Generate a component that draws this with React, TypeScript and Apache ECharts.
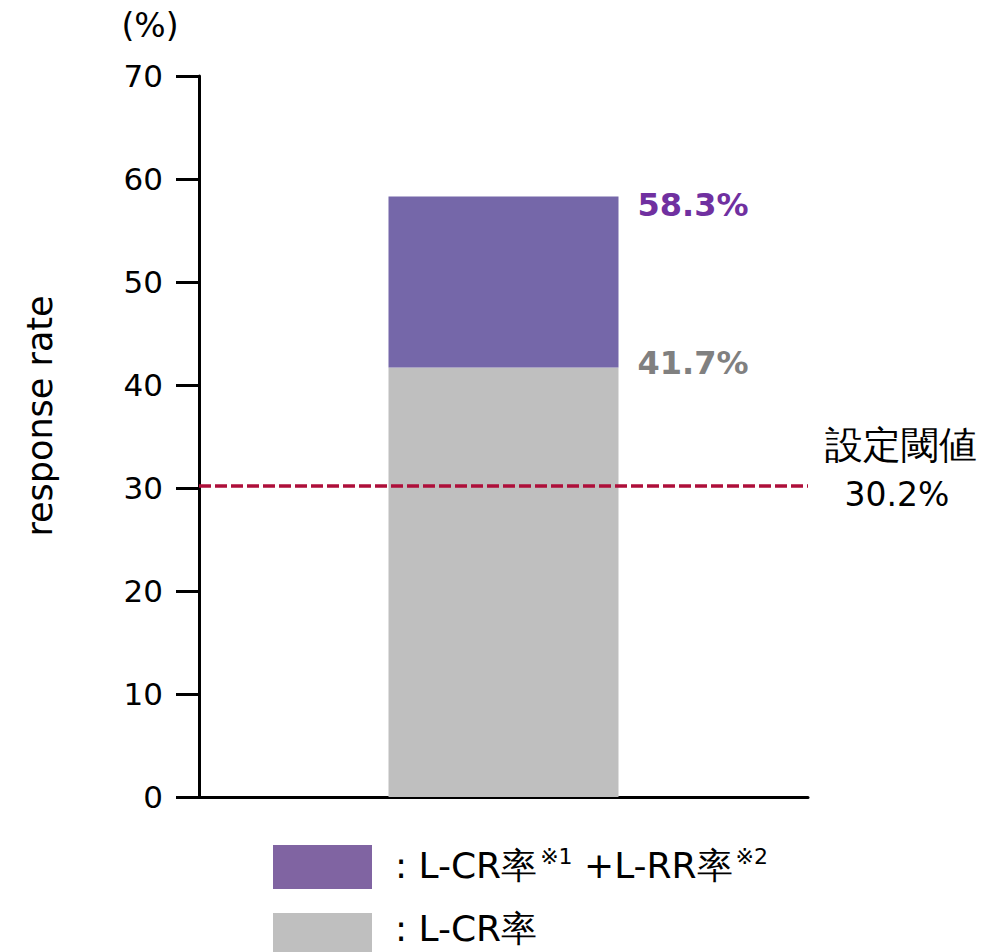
import React, { useEffect, useRef } from "react";
import * as echarts from "echarts";

// Response rates (%)
const categories = [""];
const lcrRate = [41.7]; // L-CR率
const totalRate = [58.3]; // L-CR率 + L-RR率
const threshold = 30.2; // 設定閾値
const yTicks = { min: 0, max: 70, interval: 10 };

const FONT = "DejaVu Sans";
const PURPLE_BAR = "#7567A9";
const PURPLE_LEGEND = "#8064A2";
const GRAY = "#BFBFBF";
const RED = "#AE0F3A";

export default function App() {
  const ref = useRef<HTMLDivElement>(null);

  useEffect(() => {
    if (!ref.current) return;
    const chart = echarts.init(ref.current, undefined, { renderer: "svg" });
    const rrPart = totalRate.map((t, i) => +(t - lcrRate[i]).toFixed(1));

    chart.setOption({
      animation: false,
      textStyle: { fontFamily: FONT },
      grid: { left: 199, right: 188, top: 76, bottom: 155, containLabel: false },
      xAxis: {
        type: "category",
        data: categories,
        axisLine: { show: true, lineStyle: { color: "#000", width: 3 } },
        axisTick: { show: false },
        axisLabel: { show: false },
      },
      yAxis: {
        type: "value",
        min: yTicks.min,
        max: yTicks.max,
        interval: yTicks.interval,
        splitLine: { show: false },
        axisLine: { show: true, lineStyle: { color: "#000", width: 3 } },
        axisTick: { show: true, length: 23, lineStyle: { color: "#000", width: 3 } },
        axisLabel: { color: "#000", fontSize: 31, margin: 36, fontFamily: FONT },
      },
      series: [
        {
          type: "bar",
          stack: "rate",
          barWidth: 230,
          data: lcrRate,
          itemStyle: { color: GRAY },
          label: {
            show: true,
            position: ["100%", 0],
            offset: [19, -4],
            align: "left",
            verticalAlign: "middle",
            fontSize: 32,
            fontWeight: "bold",
            color: "#808080",
            fontFamily: FONT,
            formatter: (p: any) => `${lcrRate[p.dataIndex]}%`,
          },
          markLine: {
            silent: true,
            symbol: "none",
            label: { show: false },
            lineStyle: { color: RED, width: 3.5, type: [12, 4], opacity: 1 },
            data: [{ yAxis: threshold }],
          },
        },
        {
          type: "bar",
          stack: "rate",
          barWidth: 230,
          data: rrPart,
          itemStyle: { color: PURPLE_BAR },
          label: {
            show: true,
            position: ["100%", 0],
            offset: [19, 8],
            align: "left",
            verticalAlign: "middle",
            fontSize: 32,
            fontWeight: "bold",
            color: "#7030A0",
            fontFamily: FONT,
            formatter: (p: any) => `${totalRate[p.dataIndex]}%`,
          },
        },
      ],
      graphic: [
        {
          type: "text",
          x: 150,
          y: 25,
          style: { text: "(%)", fontSize: 33, fontFamily: FONT, fill: "#000", align: "center", verticalAlign: "middle" },
        },
        {
          type: "text",
          x: 40,
          y: 416,
          rotation: Math.PI / 2,
          style: { text: "response rate", fontSize: 35, fontFamily: FONT, fill: "#000", align: "center", verticalAlign: "middle" },
        },
        {
          type: "text",
          x: 901,
          y: 445,
          style: { text: "設定閾値", fontSize: 38, fontFamily: FONT, fill: "#000", align: "center", verticalAlign: "middle" },
        },
        {
          type: "text",
          x: 897,
          y: 494,
          style: { text: `${threshold}%`, fontSize: 33, fontFamily: FONT, fill: "#000", align: "center", verticalAlign: "middle" },
        },
        {
          type: "rect",
          shape: { x: 273, y: 845, width: 99, height: 44 },
          style: { fill: PURPLE_LEGEND },
        },
        {
          type: "rect",
          shape: { x: 273, y: 913, width: 99, height: 44 },
          style: { fill: GRAY },
        },
        {
          type: "text",
          x: 395,
          y: 865,
          style: {
            text: "{a|: L-CR率}{s|※1}{a| +L-RR率}{s|※2}",
            verticalAlign: "middle",
            rich: {
              a: { fontSize: 36, fontFamily: FONT, fill: "#000", lineHeight: 44 },
              s: { fontSize: 22, fontFamily: FONT, fill: "#000", lineHeight: 22, verticalAlign: "top", padding: [2, 0, 0, 3] },
            },
          },
        },
        {
          type: "text",
          x: 395,
          y: 928,
          style: { text: ": L-CR率", fontSize: 36, fontFamily: FONT, fill: "#000", verticalAlign: "middle" },
        },
      ],
    });

    return () => chart.dispose();
  }, []);

  return (
    <div
      ref={ref}
      style={{ position: "absolute", left: 0, top: 0, width: 996, height: 952 }}
    />
  );
}
